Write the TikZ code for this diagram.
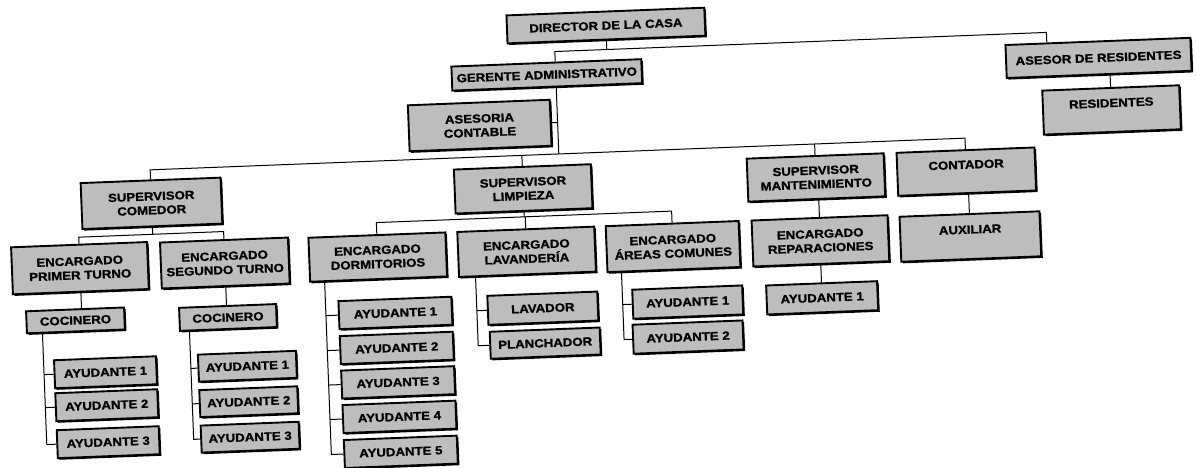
\documentclass[tikz,border=0pt]{standalone}
\usepackage{fontspec}
\setmainfont{Liberation Sans}[FakeStretch=1.12, BoldFeatures={FakeBold=1.2}]
\usetikzlibrary{shadows}
\begin{document}
\begin{tikzpicture}[x=1pt,y=1pt,
  box/.style={draw=black, line width=1.9pt, fill=black!26, inner sep=1pt, align=center,
    font=\bfseries\fontsize{11.8}{14}\selectfont,
    drop shadow={shadow xshift=1.6pt, shadow yshift=-1.6pt, opacity=1, fill=black}},
  sz/.style 2 args={minimum width=#1pt, minimum height=#2pt},
  conn/.style={line width=1pt}]
\useasboundingbox (0,0) rectangle (1196,-468);
\begin{scope}[rotate around={2.23:(598,-234)}, transform shape]
% level 0-1
\node[box, sz={198}{28}] (dir) at (614,-26) {DIRECTOR DE LA CASA};
\node[box, sz={190}{24}] (ger) at (553,-73) {GERENTE ADMINISTRATIVO};
\node[box, sz={185}{33}] (asr) at (1105,-77.5) {ASESOR DE RESIDENTES};
\node[box, sz={137}{44}] (res) at (1116,-130) {RESIDENTES\\\mbox{}};
\node[box, sz={142}{46}] (aco) at (484,-121) {ASESORIA\\CONTABLE};
% supervisors
\node[box, sz={140}{46}] (scom) at (153,-186) {SUPERVISOR\\COMEDOR};
\node[box, sz={137}{44}] (slim) at (525,-186) {SUPERVISOR\\LIMPIEZA};
\node[box, sz={137}{43}] (sman) at (818,-186) {SUPERVISOR\\MANTENIMIENTO};
\node[box, sz={138}{43}] (cont) at (968.5,-186) {CONTADOR\\\mbox{}};
% encargados
\node[box, sz={136}{47}] (ept) at (79,-248) {ENCARGADO\\PRIMER TURNO};
\node[box, sz={128}{46}] (est) at (224,-248.5) {ENCARGADO\\SEGUNDO TURNO};
\node[box, sz={137}{44}] (edo) at (377,-248.5) {ENCARGADO\\DORMITORIOS};
\node[box, sz={137}{45}] (ela) at (526,-249) {ENCARGADO\\LAVANDERÍA};
\node[box, sz={133}{46}] (eac) at (672.5,-249.5) {ENCARGADO\\ÁREAS COMUNES};
\node[box, sz={136}{46}] (erep) at (820,-249.5) {ENCARGADO\\REPARACIONES};
\node[box, sz={140}{45}] (aux) at (970,-251) {AUXILIAR\\\mbox{}};
% lower
\node[box, sz={98}{22}] (coc1) at (72.5,-300) {COCINERO};
\node[box, sz={97}{23}] (coc2) at (225,-303) {COCINERO};
\node[box, sz={110}{29}] (lav) at (540,-306) {LAVADOR};
\node[box, sz={110}{27}] (pla) at (541,-341) {PLANCHADOR};
\node[box, sz={111}{29}] (rayu) at (819.5,-306.5) {AYUDANTE 1};
\node[box, sz={110}{29}] (aca1) at (685,-305.5) {AYUDANTE 1};
\node[box, sz={110}{29}] (aca2) at (684,-340.5) {AYUDANTE 2};
\node[box, sz={113}{28}] (d1) at (392.5,-305) {AYUDANTE 1};
\node[box, sz={113}{28}] (d2) at (392.5,-340) {AYUDANTE 2};
\node[box, sz={113}{28}] (d3) at (392.5,-374.5) {AYUDANTE 3};
\node[box, sz={113}{28}] (d4) at (392.5,-409) {AYUDANTE 4};
\node[box, sz={113}{28}] (d5) at (392.5,-444) {AYUDANTE 5};
\node[box, sz={102}{28}] (c1a1) at (100.5,-353) {AYUDANTE 1};
\node[box, sz={102}{28}] (c1a2) at (100.5,-386) {AYUDANTE 2};
\node[box, sz={102}{28}] (c1a3) at (100.5,-423) {AYUDANTE 3};
\node[box, sz={98}{27}] (c2a1) at (242.5,-352.5) {AYUDANTE 1};
\node[box, sz={98}{27}] (c2a2) at (242.5,-388) {AYUDANTE 2};
\node[box, sz={98}{27}] (c2a3) at (242.5,-423.5) {AYUDANTE 3};
% helper coordinates
\coordinate (gtop) at (562,-50);
\coordinate (atop) at (1054,-50);
\coordinate (gd) at (562,0);
\coordinate (mb) at (0,-152.5);
\coordinate (cb) at (0,-217);
\coordinate (lb) at (0,-214);
\coordinate (s1) at (39,0);
\coordinate (s2) at (186,0);
\coordinate (s3) at (323,0);
\coordinate (s4) at (474,0);
\coordinate (s5) at (620,0);
% connectors
\draw[conn] (dir.south) -- (dir.south |- gtop);
\draw[conn] (gtop |- ger.north) -- (gtop) -- (atop) -- (atop |- asr.north);
\draw[conn] (res.north) -- (res.north |- asr.south);
\draw[conn] (gd |- ger.south) -- (gd |- mb);
\draw[conn] (gd |- aco.east) -- (aco.east);
\draw[conn] (scom.north) -- (scom.north |- mb) -- (cont.north |- mb) -- (cont.north);
\draw[conn] (slim.north) -- (slim.north |- mb);
\draw[conn] (sman.north) -- (sman.north |- mb);
\draw[conn] (scom.south) -- (scom.south |- cb);
\draw[conn] (ept.north) -- (ept.north |- cb) -- (est.north |- cb) -- (est.north);
\draw[conn] (slim.south) -- (slim.south |- lb);
\draw[conn] (edo.north) -- (edo.north |- lb) -- (eac.north |- lb) -- (eac.north);
\draw[conn] (ela.north) -- (ela.north |- lb);
\draw[conn] (erep.north) -- (erep.north |- sman.south);
\draw[conn] (rayu.north) -- (rayu.north |- erep.south);
\draw[conn] (aux.north) -- (aux.north |- cont.south);
\draw[conn] (ept.south) -- (ept.south |- coc1.north);
\draw[conn] (est.south) -- (est.south |- coc2.north);
% spines
\draw[conn] (s1 |- coc1.south) -- (s1 |- c1a3.west) -- (c1a3.west);
\draw[conn] (s1 |- c1a1.west) -- (c1a1.west);
\draw[conn] (s1 |- c1a2.west) -- (c1a2.west);
\draw[conn] (s2 |- coc2.south) -- (s2 |- c2a3.west) -- (c2a3.west);
\draw[conn] (s2 |- c2a1.west) -- (c2a1.west);
\draw[conn] (s2 |- c2a2.west) -- (c2a2.west);
\draw[conn] (s3 |- edo.south) -- (s3 |- d5.west) -- (d5.west);
\draw[conn] (s3 |- d1.west) -- (d1.west);
\draw[conn] (s3 |- d2.west) -- (d2.west);
\draw[conn] (s3 |- d3.west) -- (d3.west);
\draw[conn] (s3 |- d4.west) -- (d4.west);
\draw[conn] (s4 |- ela.south) -- (s4 |- pla.west) -- (pla.west);
\draw[conn] (s4 |- lav.west) -- (lav.west);
\draw[conn] (s5 |- eac.south) -- (s5 |- aca2.west) -- (aca2.west);
\draw[conn] (s5 |- aca1.west) -- (aca1.west);
\end{scope}
\end{tikzpicture}
\end{document}
